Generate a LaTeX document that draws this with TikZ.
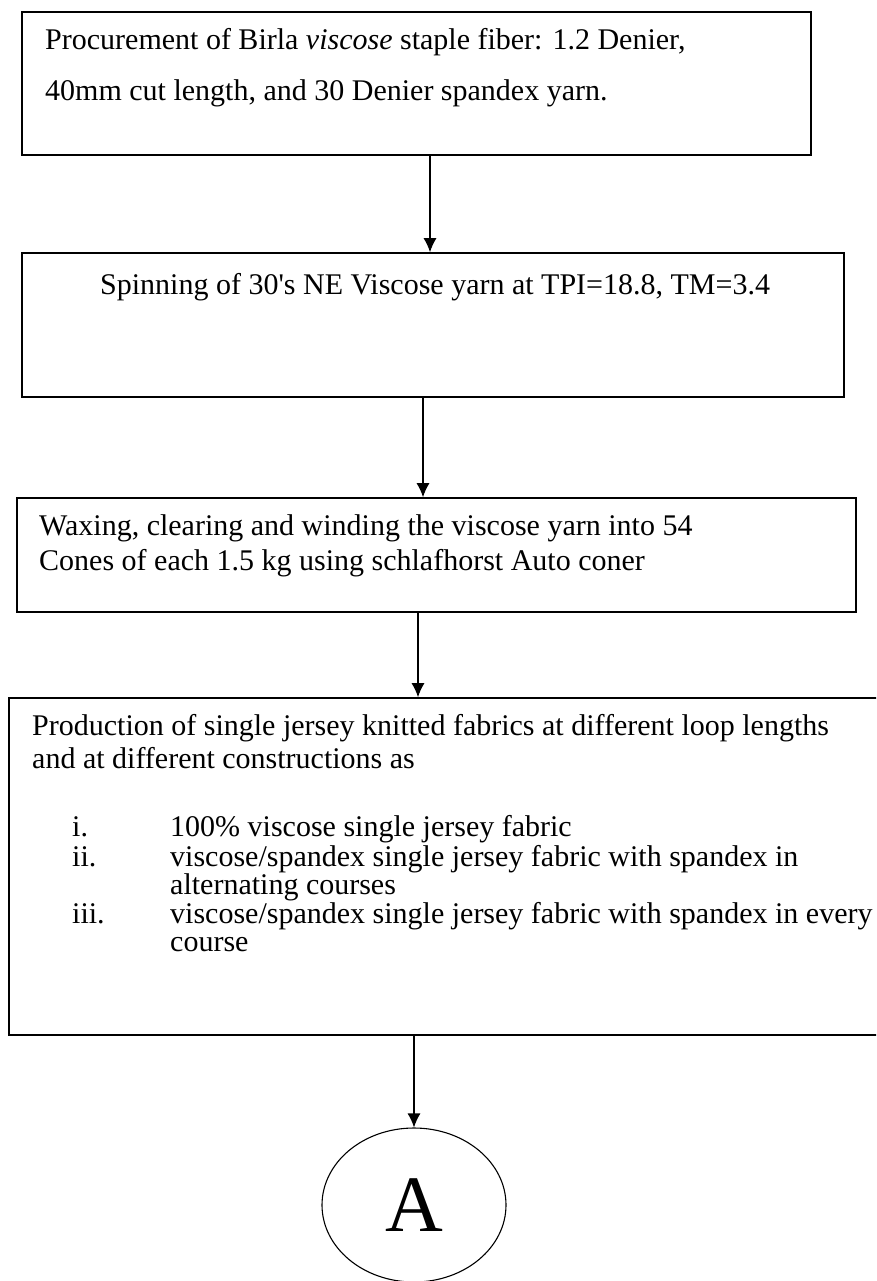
\documentclass[tikz,border=0pt]{standalone}
\usepackage{fontspec}
\setmainfont{Liberation Serif}
\usetikzlibrary{arrows.meta, shapes.geometric}

\tikzset{
  stepbox/.style={draw, rectangle, line width=1.6pt, inner sep=0pt},
  line/.style={anchor=base west, inner sep=0pt, font=\fontsize{30}{30}\selectfont},
  flow/.style={-{Latex[length=14pt, width=13pt]}, line width=1.2pt},
}

\begin{document}
\begin{tikzpicture}[x=1pt, y=-1pt]
  \clip (0,0) rectangle (876,1281);
  % the boxes, from top to bottom
  \node[stepbox, minimum width=789pt, minimum height=143pt] (proc) at (416.5,83.5) {};
  \node[stepbox, minimum width=822pt, minimum height=144pt] (spin) at (433,325) {};
  \node[stepbox, minimum width=839pt, minimum height=114pt] (wax) at (436.5,555) {};
  \node[stepbox, minimum width=881pt, minimum height=337pt] (knit) at (449.5,866.5) {};
  \node[draw, ellipse, line width=1.1pt, minimum width=184pt, minimum height=154pt,
        font=\fontsize{80}{80}\selectfont] (cont) at (414,1205) {A};

  % texts of the boxes
  \node[line] (proc-1) at (45,50) {Procurement of Birla \textit{viscose} staple fiber: 1.2 Denier,};
  \node[line] (proc-2) at (45,101) {40mm cut length, and 30 Denier spandex yarn.};
  \node[line] (spin-1) at (100,294) {Spinning of 30\textquotesingle s NE Viscose yarn at TPI=18.8, TM=3.4};
  \node[line] (wax-1) at (39,535) {Waxing, clearing and winding the viscose yarn into 54};
  \node[line] (wax-2) at (39,570) {Cones of each 1.5 kg using schlafhorst Auto coner};
  \node[line] (knit-1) at (32,735) {Production of single jersey knitted fabrics at different loop lengths};
  \node[line] (knit-2) at (32,768) {and at different constructions as};

  % the list in the last box
  \foreach \num/\yy in {i./836, ii./866, iii./923}
    \node[line] (num-\num) at (72,\yy) {\num};
  \node[line] (item-1) at (170,836) {100\% viscose single jersey fabric};
  \node[line] (item-2) at (170,866) {viscose/spandex single jersey fabric with spandex in};
  \node[line] (item-2b) at (170,894) {alternating courses};
  \node[line] (item-3) at (170,923) {viscose/spandex single jersey fabric with spandex in every};
  \node[line] (item-3b) at (170,951) {course};

  % arrows
  \draw[flow] ([xshift=13.5pt]proc.south) -- ([xshift=13.5pt]proc.south |- spin.north);
  \draw[flow] ([xshift=-10pt]spin.south) -- ([xshift=-10pt]spin.south |- wax.north);
  \draw[flow] ([xshift=-18.5pt]wax.south) -- ([xshift=-18.5pt]wax.south |- knit.north);
  \draw[flow] (cont.north |- knit.south) -- (cont.north);
\end{tikzpicture}
\end{document}
